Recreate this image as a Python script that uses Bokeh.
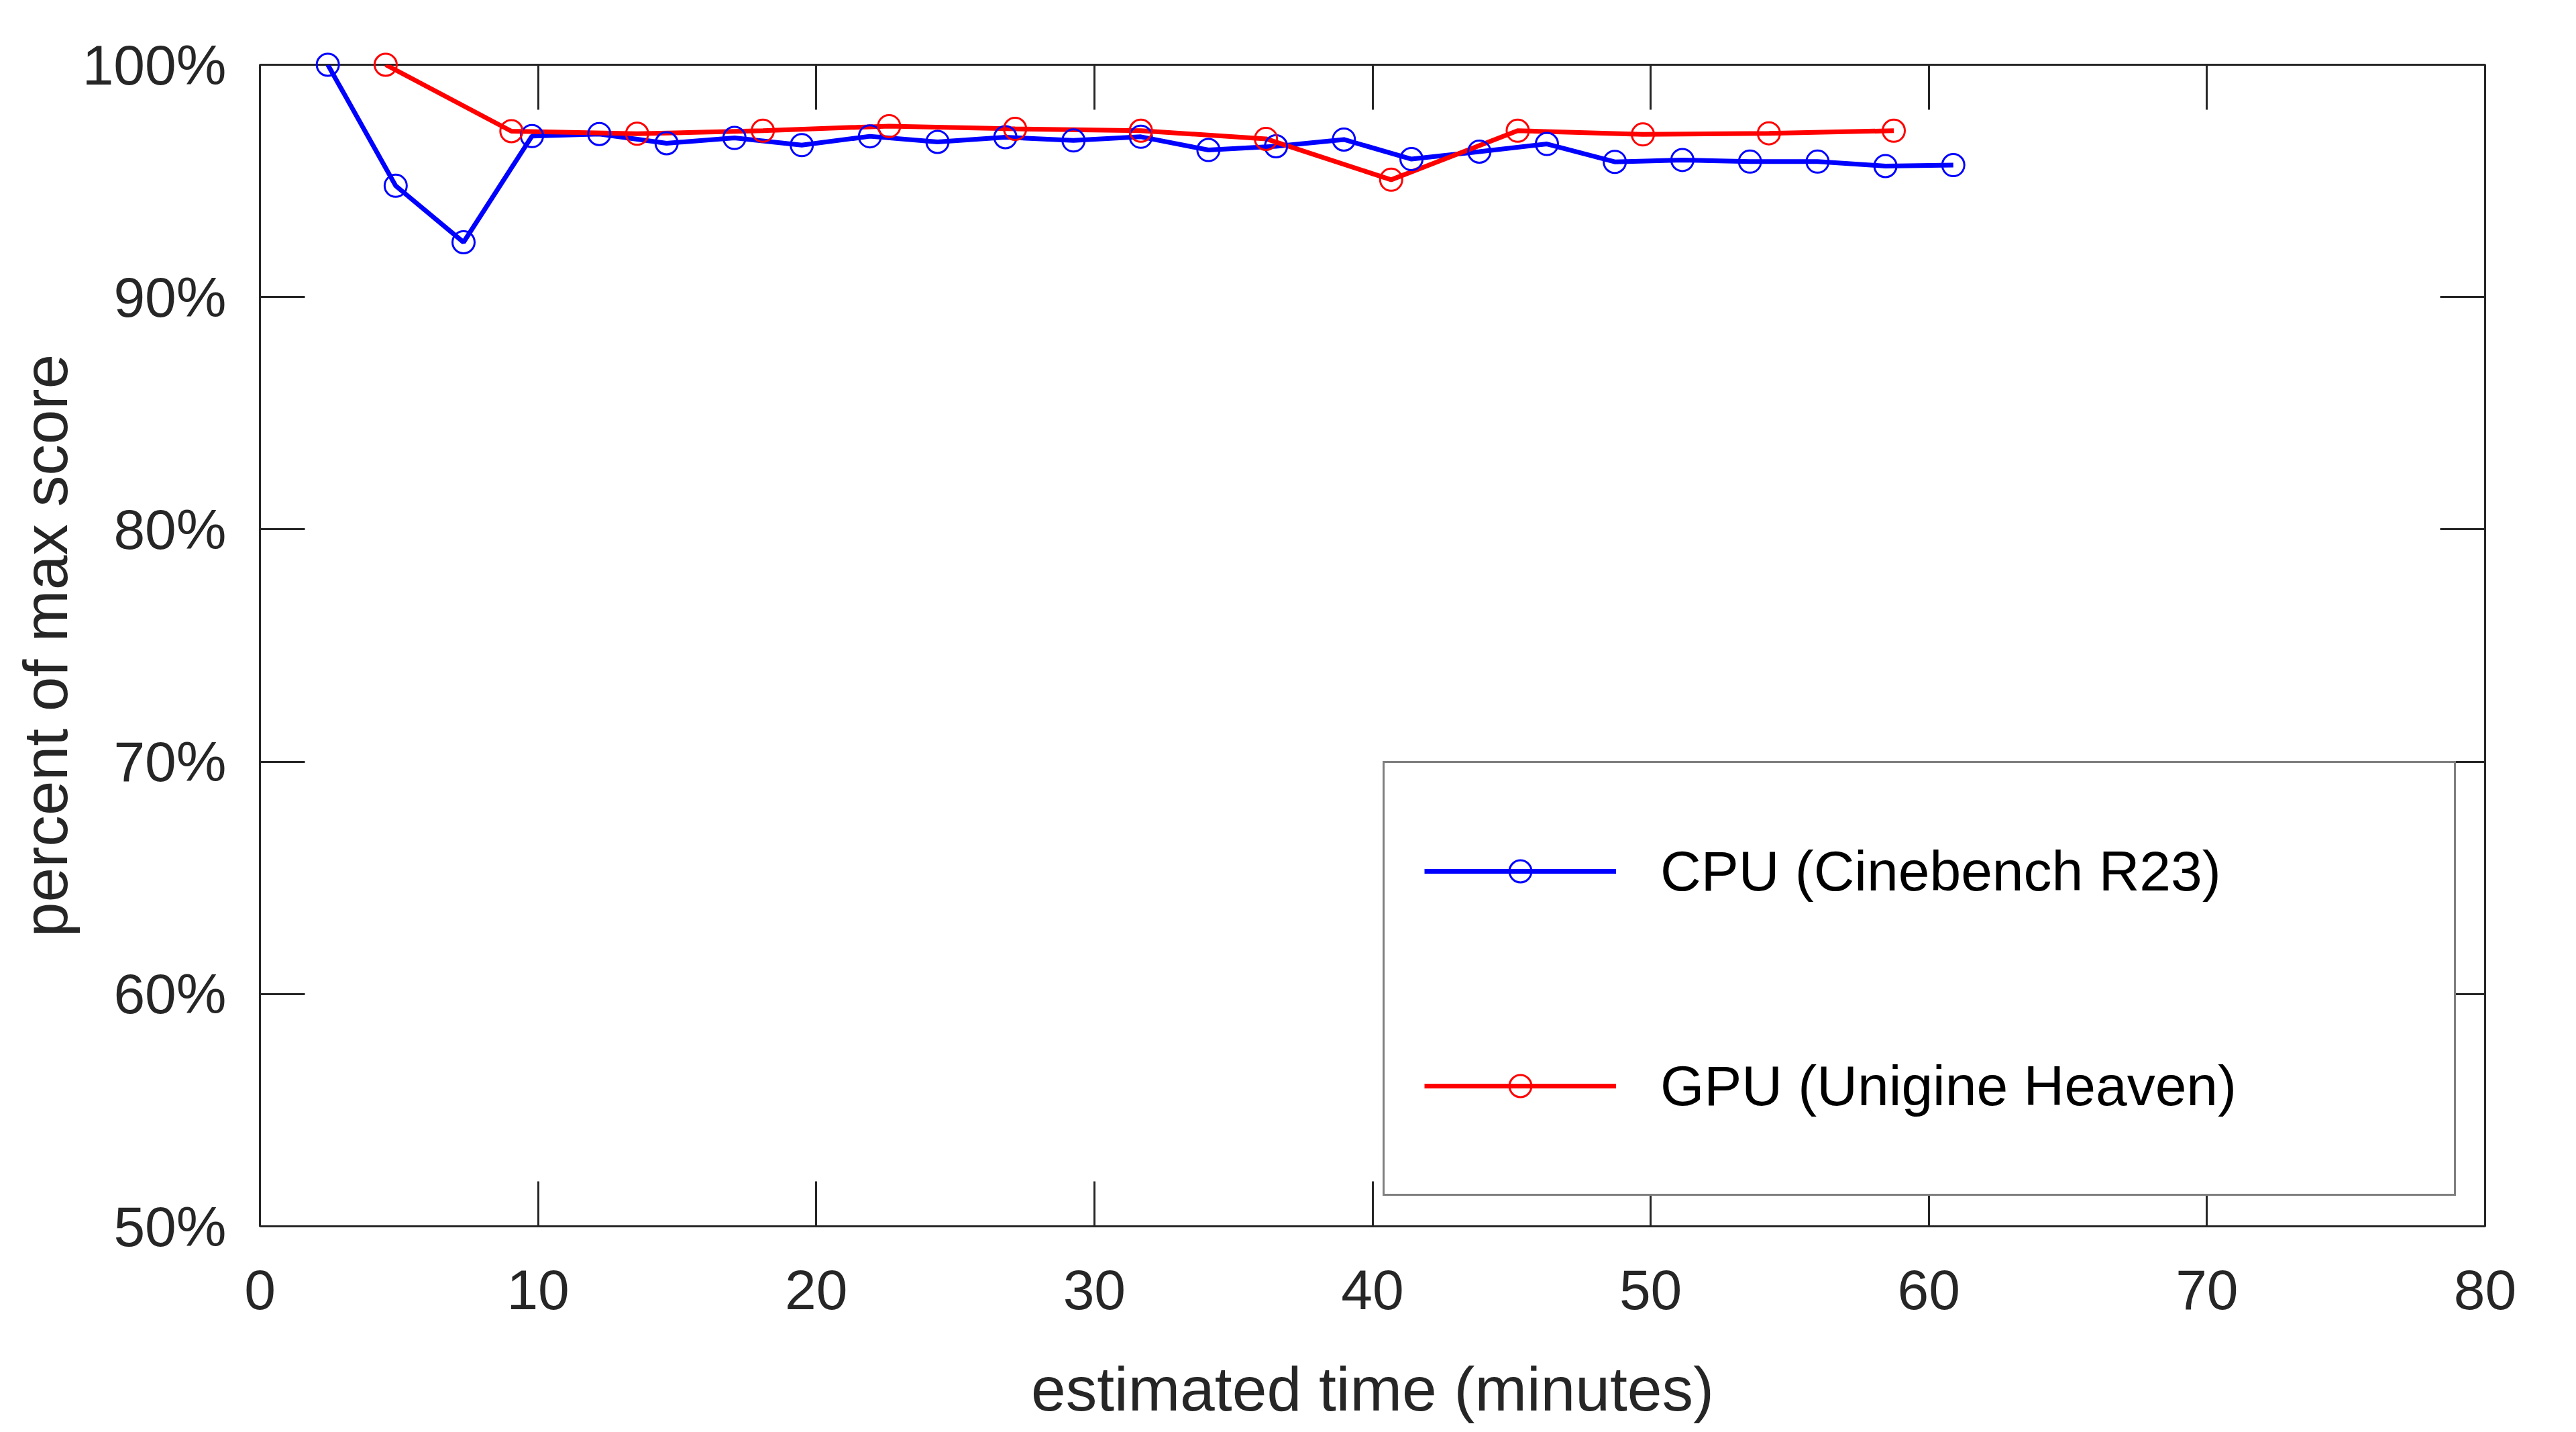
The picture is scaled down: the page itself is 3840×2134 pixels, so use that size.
from bokeh.plotting import figure
from bokeh.models import (Range1d, FixedTicker, LinearAxis, Legend, LegendItem,
                          CustomJSTickFormatter, PrintfTickFormatter)
from bokeh.embed import file_html
from bokeh.resources import INLINE

# ---- data ----
cpu_time = [2.44, 4.88, 7.32, 9.78, 12.2, 14.62, 17.06, 19.48, 21.93, 24.36, 26.8, 29.25,
            31.67, 34.1, 36.53, 38.97, 41.4, 43.84, 46.27, 48.71, 51.14, 53.57, 56.0, 58.44, 60.88]
cpu_pct = [100.0, 94.79, 92.36, 96.93, 97.02, 96.62, 96.85, 96.54, 96.92, 96.68, 96.88, 96.74,
           96.9, 96.33, 96.49, 96.78, 95.94, 96.26, 96.59, 95.82, 95.9, 95.83, 95.83, 95.64, 95.68]
gpu_time = [4.52, 9.04, 13.56, 18.08, 22.62, 27.15, 31.67, 36.17, 40.67, 45.22, 49.72, 54.25, 58.74]
gpu_pct = [100.0, 97.14, 97.03, 97.16, 97.36, 97.24, 97.16, 96.81, 95.05, 97.16, 97.0, 97.05, 97.16]

x_ticks = [0, 10, 20, 30, 40, 50, 60, 70, 80]
y_ticks = [50, 60, 70, 80, 90, 100]
x_label = "estimated time (minutes)"
y_label = "percent of max score"
cpu_name = "CPU (Cinebench R23)"
gpu_name = "GPU (Unigine Heaven)"

FONT = "Liberation Sans"
DARK = "#262626"

p = figure(frame_width=3317, frame_height=1731,
           x_range=Range1d(0, 80), y_range=Range1d(50, 100),
           output_backend="svg", toolbar_location=None,
           min_border_left=387, min_border_right=120,
           min_border_top=96, min_border_bottom=291,
           background_fill_color="white", border_fill_color="white")
p.xgrid.visible = False
p.ygrid.visible = False
p.outline_line_color = DARK
p.outline_line_width = 3


def style_axis(ax, ticks):
    ax.ticker = FixedTicker(ticks=ticks)
    ax.axis_line_color = None
    ax.major_tick_in = 67
    ax.major_tick_out = 0
    ax.major_tick_line_color = DARK
    ax.major_tick_line_width = 3
    ax.minor_tick_line_color = None
    ax.major_label_text_font = FONT
    ax.major_label_text_font_size = "84px"
    ax.major_label_text_color = DARK
    ax.axis_label_text_font = FONT
    ax.axis_label_text_font_size = "93px"
    ax.axis_label_text_font_style = "normal"
    ax.axis_label_text_color = DARK


xa = p.xaxis[0]
style_axis(xa, x_ticks)
xa.major_label_standoff = 65
xa.axis_label = x_label
xa.axis_label_standoff = 64

ya = p.yaxis[0]
style_axis(ya, y_ticks)
ya.formatter = PrintfTickFormatter(format="%d%%")
ya.major_label_standoff = 50
ya.axis_label = y_label
ya.axis_label_standoff = 0

blank = CustomJSTickFormatter(code="return '';")
top = LinearAxis()
style_axis(top, x_ticks)
top.formatter = blank
top.major_label_standoff = 0
p.add_layout(top, "above")
right = LinearAxis()
style_axis(right, y_ticks)
right.formatter = blank
right.major_label_standoff = 0
p.add_layout(right, "right")

cpu_line = p.line(cpu_time, cpu_pct, line_color="#0000ff", line_width=7)
cpu_pts = p.scatter(cpu_time, cpu_pct, marker="circle", size=33, fill_color=None,
                    line_color="#0000ff", line_width=3, level="overlay")
gpu_line = p.line(gpu_time, gpu_pct, line_color="#ff0000", line_width=7)
gpu_pts = p.scatter(gpu_time, gpu_pct, marker="circle", size=33, fill_color=None,
                    line_color="#ff0000", line_width=3, level="overlay")

legend = Legend(items=[LegendItem(label=cpu_name, renderers=[cpu_line, cpu_pts]),
                       LegendItem(label=gpu_name, renderers=[gpu_line, gpu_pts])],
                location=(1674, 45), orientation="vertical",
                padding=59, spacing=116, margin=0,
                glyph_width=286, glyph_height=82, label_height=204,
                label_width=1124, label_standoff=66,
                label_text_font=FONT, label_text_font_size="84px",
                label_text_color="#000000",
                border_line_color="#000000", border_line_width=3,
                background_fill_color="white", background_fill_alpha=1.0)
p.add_layout(legend)

open("out.html", "w").write(file_html(p, INLINE))
